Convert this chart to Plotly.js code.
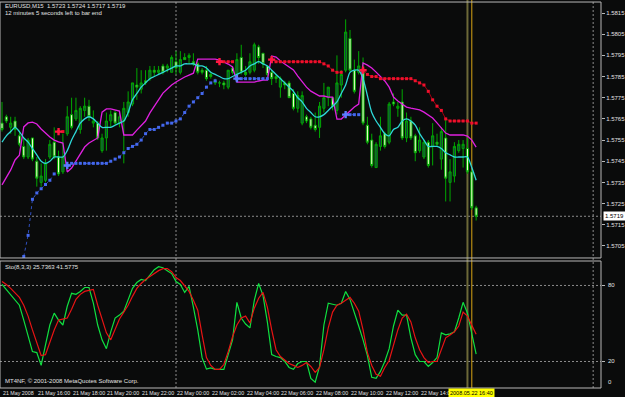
<!DOCTYPE html>
<html><head><meta charset="utf-8">
<script src="https://cdn.plot.ly/plotly-3.0.1.min.js"></script>
<style>html,body{margin:0;padding:0;background:#0a0b0b;}#chart{width:625px;height:397px;}</style>
</head><body><div id="chart"></div>
<script>
// ---- EURUSD M15 candles (bar 0 .. 109) ----
const open = [1.5763,1.5766,1.5761,1.5764,1.5757,1.5752,1.5747,1.5756,1.5745,1.5735,
1.5736,1.5747,1.5754,1.5747,1.5740,1.5758,1.5767,1.5765,1.5760,1.5769,
1.5771,1.5763,1.5763,1.5750,1.5756,1.5764,1.5768,1.5763,1.5764,1.5768,
1.5772,1.5781,1.5779,1.5783,1.5784,1.5788,1.5787,1.5790,1.5789,1.5787,
1.5792,1.5787,1.5794,1.5794,1.5792,1.5791,1.5788,1.5788,1.5786,1.5782,
1.5782,1.5782,1.5780,1.5789,1.5786,1.5794,1.5787,1.5787,1.5788,1.5799,
1.5796,1.5790,1.5787,1.5785,1.5780,1.5782,1.5782,1.5777,1.5770,1.5763,
1.5766,1.5765,1.5762,1.5761,1.5770,1.5775,1.5775,1.5769,1.5781,1.5788,
1.5803,1.5788,1.5787,1.5788,1.5762,1.5755,1.5742,1.5752,1.5758,1.5754,
1.5773,1.5770,1.5773,1.5756,1.5764,1.5757,1.5750,1.5747,1.5754,1.5752,
1.5754,1.5746,1.5756,1.5735,1.5738,1.5750,1.5751,1.5751,1.5740,1.5723];
const high = [1.5773,1.5767,1.5766,1.5766,1.5759,1.5756,1.5756,1.5756,1.5747,1.5744,
1.5746,1.5755,1.5761,1.5750,1.5758,1.5771,1.5775,1.5775,1.5771,1.5775,
1.5774,1.5769,1.5764,1.5758,1.5768,1.5769,1.5769,1.5768,1.5773,1.5778,
1.5782,1.5789,1.5788,1.5788,1.5790,1.5790,1.5790,1.5791,1.5791,1.5795,
1.5797,1.5797,1.5796,1.5796,1.5796,1.5792,1.5789,1.5790,1.5787,1.5784,
1.5783,1.5783,1.5788,1.5790,1.5796,1.5800,1.5790,1.5796,1.5801,1.5800,
1.5796,1.5790,1.5788,1.5786,1.5785,1.5783,1.5783,1.5779,1.5778,1.5778,
1.5767,1.5766,1.5768,1.5773,1.5782,1.5780,1.5775,1.5795,1.5788,1.5812,
1.5807,1.5793,1.5797,1.5794,1.5766,1.5758,1.5754,1.5766,1.5759,1.5773,
1.5777,1.5773,1.5779,1.5768,1.5766,1.5758,1.5761,1.5755,1.5755,1.5763,
1.5758,1.5761,1.5765,1.5746,1.5754,1.5755,1.5755,1.5756,1.5741,1.5724];
const low = [1.5759,1.5763,1.5758,1.5757,1.5752,1.5746,1.5746,1.5745,1.5733,1.5733,
1.5735,1.5746,1.5746,1.5738,1.5739,1.5757,1.5760,1.5764,1.5758,1.5766,
1.5764,1.5761,1.5755,1.5749,1.5750,1.5761,1.5762,1.5761,1.5744,1.5766,
1.5771,1.5774,1.5777,1.5781,1.5783,1.5785,1.5786,1.5786,1.5787,1.5787,
1.5786,1.5786,1.5793,1.5791,1.5790,1.5786,1.5786,1.5783,1.5784,1.5781,
1.5780,1.5779,1.5779,1.5786,1.5785,1.5786,1.5785,1.5786,1.5787,1.5791,
1.5789,1.5785,1.5781,1.5782,1.5775,1.5779,1.5775,1.5769,1.5768,1.5762,
1.5763,1.5760,1.5759,1.5756,1.5768,1.5771,1.5769,1.5767,1.5775,1.5787,
1.5787,1.5777,1.5786,1.5762,1.5753,1.5742,1.5742,1.5750,1.5751,1.5753,
1.5771,1.5766,1.5755,1.5754,1.5755,1.5745,1.5749,1.5746,1.5742,1.5743,
1.5752,1.5741,1.5726,1.5726,1.5735,1.5749,1.5742,1.5739,1.5722,1.5717];
const close = [1.5760,1.5764,1.5763,1.5760,1.5753,1.5747,1.5755,1.5746,1.5737,1.5738,
1.5744,1.5753,1.5747,1.5739,1.5747,1.5766,1.5761,1.5769,1.5770,1.5771,
1.5766,1.5764,1.5756,1.5756,1.5764,1.5767,1.5763,1.5766,1.5770,1.5773,
1.5782,1.5780,1.5782,1.5782,1.5788,1.5787,1.5788,1.5787,1.5790,1.5794,
1.5789,1.5793,1.5793,1.5795,1.5791,1.5787,1.5787,1.5784,1.5785,1.5783,
1.5782,1.5781,1.5788,1.5787,1.5793,1.5787,1.5786,1.5792,1.5800,1.5794,
1.5791,1.5786,1.5784,1.5784,1.5784,1.5781,1.5775,1.5770,1.5776,1.5776,
1.5764,1.5761,1.5760,1.5771,1.5775,1.5780,1.5771,1.5782,1.5786,1.5806,
1.5788,1.5778,1.5790,1.5763,1.5754,1.5743,1.5753,1.5757,1.5752,1.5772,
1.5772,1.5771,1.5756,1.5764,1.5756,1.5749,1.5755,1.5754,1.5743,1.5757,
1.5753,1.5759,1.5737,1.5740,1.5752,1.5753,1.5753,1.5740,1.5723,1.5719];

// ---- cyan moving average ----
const maCyan = [1.5754,1.5757,1.5759,1.5761,1.5759,1.5756,1.5754,1.5751,1.5748,1.5745,
1.5744,1.5745,1.5747,1.5747,1.5747,1.5750,1.5755,1.5759,1.5763,1.5765,
1.5766,1.5765,1.5763,1.5761,1.5761,1.5761,1.5762,1.5763,1.5764,1.5768,
1.5774,1.5777,1.5780,1.5782,1.5784,1.5785,1.5786,1.5787,1.5788,1.5789,
1.5790,1.5790,1.5791,1.5791,1.5791,1.5790,1.5790,1.5789,1.5787,1.5786,
1.5785,1.5784,1.5784,1.5785,1.5786,1.5787,1.5788,1.5790,1.5791,1.5792,
1.5791,1.5790,1.5788,1.5786,1.5784,1.5782,1.5780,1.5778,1.5775,1.5773,
1.5770,1.5768,1.5766,1.5766,1.5767,1.5769,1.5771,1.5773,1.5777,1.5781,
1.5787,1.5788,1.5788,1.5784,1.5776,1.5768,1.5764,1.5761,1.5758,1.5757,
1.5760,1.5761,1.5764,1.5765,1.5764,1.5762,1.5758,1.5755,1.5752,1.5752,
1.5752,1.5751,1.5749,1.5748,1.5747,1.5747,1.5747,1.5747,1.5742,1.5736];

// ---- magenta line ----
const lineMagenta = [1.57338,1.57371,1.57409,1.57456,1.57479,1.57612,1.57631,1.57635,1.57626,1.57602,
1.57583,1.57564,1.57550,1.57541,1.57536,1.57399,1.57418,1.57451,1.57484,1.57517,
1.57536,1.57550,1.57560,1.57682,1.57697,1.57697,1.57692,1.57687,1.57574,1.57574,
1.57574,1.57597,1.57621,1.57640,1.57678,1.57711,1.57744,1.57772,1.57791,1.57810,
1.57824,1.57838,1.57848,1.57857,1.57866,1.57932,1.57932,1.57932,1.57932,1.57932,
1.57928,1.57918,1.57909,1.57895,1.57824,1.57824,1.57824,1.57824,1.57824,1.57829,
1.57833,1.57833,1.57947,1.57942,1.57923,1.57909,1.57895,1.57881,1.57852,1.57824,
1.57800,1.57781,1.57768,1.57758,1.57758,1.57753,1.57753,1.57649,1.57649,1.57668,
1.57687,1.57706,1.57720,1.57914,1.57904,1.57890,1.57871,1.57848,1.57829,1.57800,
1.57753,1.57734,1.57720,1.57706,1.57701,1.57697,1.57692,1.57682,1.57668,1.57654,
1.57631,1.57607,1.57583,1.57574,1.57574,1.57574,1.57574,1.57569,1.57550,1.57517];

// ---- Parabolic SAR (blue below price, red above price) ----
const N = null;
const sarBlue = [N,N,N,N,N,1.5700,1.5710,1.5727,1.5730,1.5732,
1.5734,1.5736,1.5739,N,N,1.5743,1.5744,1.5744,1.5744,1.5744,
1.5744,1.5744,1.5744,1.5744,1.5744,1.5745,1.5746,1.5747,1.5749,1.5751,
1.5752,1.5753,1.5755,1.5758,1.5760,1.5760,1.5761,1.5762,1.5763,1.5763,
1.5764,1.5765,1.5768,1.5771,1.5773,1.5775,1.5777,1.5780,1.5782,1.5783,
N,N,N,N,1.5784,1.5784,1.5784,1.5784,1.5784,1.5784,
1.5784,1.5784,N,N,N,N,N,N,N,N,
N,N,N,N,N,N,N,N,N,1.5767,
1.5767,1.5767,1.5767,N,N,N,N,N,N,N,
N,N,N,N,N,N,N,N,N,N,
N,N,N,N,N,N,N,N,N,N];
const sarRed = [N,N,N,N,N,N,N,N,N,N,
N,N,N,1.5759,1.5759,N,N,N,N,N,
N,N,N,N,N,N,N,N,N,N,
N,N,N,N,N,N,N,N,N,N,
N,N,N,N,N,N,N,N,N,N,
1.5792,1.5792,1.5792,1.5792,N,N,N,N,N,N,
N,N,1.5793,1.5792,1.5792,1.5792,1.5792,1.5792,1.5792,1.5792,
1.5792,1.5792,1.5792,1.5792,1.5791,1.5790,1.5788,1.5787,1.5787,N,
N,N,N,1.5788,1.5786,1.5785,1.5785,1.5784,1.5784,1.5784,
1.5784,1.5784,1.5784,1.5784,1.5784,1.5783,1.5782,1.5781,1.5778,1.5774,
1.5771,1.5769,1.5765,1.5764,1.5764,1.5764,1.5764,1.5764,1.5763,1.5763];

// ---- Stochastic (8,3,3) ----
const stochMain = [80.8,76.9,73,69,64.4,52.7,39.5,27.8,27,16.9,
33.2,48.8,58.2,52.7,48.8,63.6,73.8,73,75.3,78.4,
78.4,66,48.8,37.1,30.1,43.4,54.3,56.6,59.7,68.3,
77.7,82.3,84.7,83.9,88.6,92.5,94.8,94,91.7,89.4,
83.1,80.8,74.5,79.2,62.9,44.9,23,14,15,13.8,
13.8,13.8,25.4,37.1,66.7,54.3,49.6,46.5,68.3,81.6,
72.2,51.2,25.4,23.9,23.1,20,15.3,13.8,18.4,20,
20,6.7,3.6,16.1,48.8,66,65.2,64.4,66,75.3,
69,59,48,37.1,24.7,7.5,6.7,12.2,20,30.1,
48,60.5,56.6,56.6,38.7,25.4,20,20,16.1,19.2,
23.1,42.6,41,41.8,43.4,54.3,66.7,58.2,41.8,25.7363];
const stochSignal = [83.1,80.8,77.7,73.8,70.6,64.4,55.8,44.9,34.8,24.7,
25.4,35.6,44.9,52.7,53.5,54.3,61.3,69.1,73,75.3,
76.1,76.9,64.4,52.7,42.6,37.1,44.9,53.5,59,64.4,
71.4,77.7,81.6,84.7,87,89.4,91.7,93.3,93.3,90.9,
86.2,83.9,80,75.3,68.3,60.5,41,23.1,16.9,13.8,
13.8,17.6,27.8,39.5,48.8,54.3,55.8,50.4,62.1,69.9,
74.5,62.9,44.9,29.3,23.9,21.5,18.4,16.9,15.3,16.9,
19.2,16.1,11.4,15.3,29.3,46.5,59,64.4,66,68.3,
70.6,66,59.7,44.9,27,16.9,9.9,8.3,15.3,20.8,
33.2,44.9,54.3,57.4,51.2,38.7,29.3,23.1,19.2,20,
20,29.3,38.7,41,43.4,48,59,55.8,48.8,41.5775];

// ---- axis labels / reference levels ----
const priceTicks = [1.5705,1.5715,1.5725,1.5735,1.5745,1.5755,1.5765,1.5775,1.5785,1.5795,1.5805,1.5815];
const bidPrice = 1.5719;
const stochLevels = [20, 80];
const stochLabels = ['0','20','80','100'];
const stochLabelVals = [0, 20, 80, 100];
const timeLabels = ['21 May 2008','21 May 16:00','21 May 18:00','21 May 20:00','21 May 22:00','22 May 00:00','22 May 02:00','22 May 04:00','22 May 06:00','22 May 08:00','22 May 10:00','22 May 12:00','22 May 14:00'];
const timeLabelBars = [0,8,16,24,32,40,48,56,64,72,80,88,96];
const separatorBars = [40, 135.9];
const vlineOlive = 107, vlineOrange = 108;
const vlineLabel = '2008.05.22 16:40';

const x = open.map((_, i) => i);
const FONT = 'Liberation Sans, Arial, sans-serif';
const TXT = '#e2e2e2';

function arrows(a, other) {
  const xs = [], ys = [];
  for (let i = 1; i < a.length; i++) {
    if (a[i] !== null && a[i-1] === null && other[i-1] !== null) { xs.push(i); ys.push(a[i]); }
  }
  return {xs, ys};
}
const upA = arrows(sarBlue, sarRed), dnA = arrows(sarRed, sarBlue);

const traces = [
  {type:'candlestick', x, open, high, low, close, xaxis:'x', yaxis:'y', whiskerwidth:0,
   increasing:{line:{color:'#00a800', width:1}, fillcolor:'#164343'},
   decreasing:{line:{color:'#00a800', width:1}, fillcolor:'#e8ffc6'}, hoverinfo:'skip'},
  {type:'scatter', mode:'lines', x, y:lineMagenta, line:{color:'#e020e0', width:1.3}, yaxis:'y'},
  {type:'scatter', mode:'lines', x, y:maCyan, line:{color:'#2ed8d8', width:1.3, shape:'spline', smoothing:0.8}, yaxis:'y'},
  {type:'scatter', mode:'lines+markers', x, y:sarBlue, connectgaps:false, yaxis:'y',
   line:{color:'#3050c0', width:1, dash:'dot'}, marker:{symbol:'square', size:3, color:'#4468ee'}},
  {type:'scatter', mode:'lines+markers', x, y:sarRed, connectgaps:false, yaxis:'y',
   line:{color:'#a00010', width:1}, marker:{symbol:'square', size:3, color:'#f0102c'}},
  {type:'scatter', mode:'markers', x:upA.xs, y:upA.ys, yaxis:'y', marker:{symbol:'cross', size:6, color:'#5a7cff'}},
  {type:'scatter', mode:'markers', x:dnA.xs, y:dnA.ys, yaxis:'y', marker:{symbol:'cross', size:6, color:'#ff1840'}},
  {type:'scatter', mode:'lines', x, y:stochMain, line:{color:'#10e040', width:1.2}, yaxis:'y2'},
  {type:'scatter', mode:'lines', x, y:stochSignal, line:{color:'#e81414', width:1.2}, yaxis:'y2'}
];

const dash = {color:'#8c8c8c', width:1, dash:'2px,2px'};
const shapes = [];
separatorBars.forEach(b => shapes.push({type:'line', xref:'x', yref:'paper', x0:b, x1:b, y0:0, y1:1, line:dash, layer:'below'}));
shapes.push({type:'line', xref:'paper', yref:'y', x0:0, x1:1, y0:bidPrice, y1:bidPrice, line:dash, layer:'below'});
stochLevels.forEach(v => shapes.push({type:'line', xref:'paper', yref:'y2', x0:0, x1:1, y0:v, y1:v, line:dash, layer:'below'}));
shapes.push({type:'line', xref:'x', yref:'paper', x0:vlineOlive, x1:vlineOlive, y0:0, y1:1, line:{color:'#6c6838', width:2}, layer:'below'});
shapes.push({type:'line', xref:'x', yref:'paper', x0:vlineOrange, x1:vlineOrange, y0:0, y1:1, line:{color:'#d8a414', width:1}, layer:'below'});
shapes.push({type:'rect', xref:'paper', yref:'y domain', x0:0, x1:1, y0:0, y1:1, line:{color:'#b8b8b8', width:1}});
shapes.push({type:'rect', xref:'paper', yref:'y2 domain', x0:0, x1:1, y0:0, y1:1, line:{color:'#b8b8b8', width:1}});

const f = (s) => ({family:FONT, size:s, color:TXT});
const annotations = [
  {xref:'paper', yref:'paper', x:0, y:1, xanchor:'left', yanchor:'top', xshift:3, yshift:-1, text:'EURUSD,M15  1.5723 1.5724 1.5717 1.5719', showarrow:false, font:f(6)},
  {xref:'paper', yref:'paper', x:0, y:1, xanchor:'left', yanchor:'top', xshift:3, yshift:-8, text:'12 minutes 5 seconds left to bar end', showarrow:false, font:f(6)},
  {xref:'paper', yref:'y2 domain', x:0, y:1, xanchor:'left', yanchor:'top', xshift:3, yshift:-1, text:'Sto(8,3,3) 25.7363 41.5775', showarrow:false, font:f(6)},
  {xref:'paper', yref:'y2 domain', x:0, y:0, xanchor:'left', yanchor:'bottom', xshift:3, yshift:2, text:'MT4NF, \u00a9 2001-2008 MetaQuotes Software Corp.', showarrow:false, font:f(6)},
  {xref:'paper', yref:'y', x:1, y:bidPrice, xanchor:'left', yanchor:'middle', xshift:2, text:bidPrice.toFixed(4), showarrow:false, bgcolor:'#ffffff', borderpad:1, font:{family:FONT, size:6, color:'#000000'}}
];
stochLabels.forEach((t, k) => {
  const v = stochLabelVals[k];
  annotations.push({xref:'paper', yref:'y2', x:1, y:v, xanchor:'left',
    yanchor: v === 100 ? 'top' : (v === 0 ? 'bottom' : 'middle'), xshift:5, text:t, showarrow:false, font:f(6)});
});
timeLabels.forEach((t, k) => annotations.push({xref:'x', yref:'paper', x:timeLabelBars[k], y:0, xanchor:'left', yanchor:'top', xshift:-1, yshift:0, text:t, showarrow:false, font:f(5.3)}));
annotations.push({xref:'x', yref:'paper', x:vlineOrange, y:0, xanchor:'center', yanchor:'top', yshift:0, text:vlineLabel, showarrow:false, bgcolor:'#ffff00', borderpad:1, font:{family:FONT, size:5.5, color:'#000000'}});

const layout = {
  width:625, height:397, paper_bgcolor:'#0a0b0b', plot_bgcolor:'#0a0b0b',
  margin:{l:0, r:24, t:0, b:9, pad:0}, showlegend:false, font:{family:FONT, color:TXT},
  xaxis:{range:[-0.46, 137.7], showgrid:false, zeroline:false, showticklabels:false, ticks:'', rangeslider:{visible:false}, anchor:'y2', fixedrange:true},
  yaxis:{domain:[0.3351, 0.9948], range:[1.56993, 1.58202], side:'right', anchor:'x', tickvals:priceTicks, ticktext:priceTicks.map(v => v.toFixed(4)),
    showgrid:false, zeroline:false, ticks:'outside', ticklen:3, tickcolor:'#b8b8b8', tickfont:f(6), showline:false},
  yaxis2:{domain:[0, 0.3273], range:[-0.92, 99.3], side:'right', anchor:'x', tickvals:stochLevels, ticktext:['',''],
    showgrid:false, zeroline:false, ticks:'outside', ticklen:3, tickcolor:'#b8b8b8', showticklabels:false},
  shapes, annotations
};

Plotly.newPlot('chart', traces, layout, {staticPlot:true, displayModeBar:false});
</script></body></html>
